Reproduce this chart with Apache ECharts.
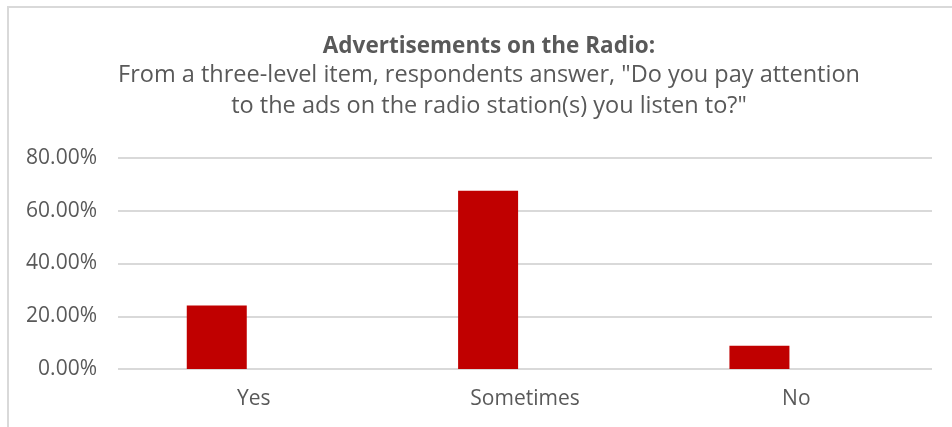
<!DOCTYPE html>
<html>
<head>
<meta charset="utf-8">
<script src="https://cdn.jsdelivr.net/npm/echarts@6/dist/echarts.min.js"></script>
<style>
  html, body { margin: 0; padding: 0; background: #fff; }
  #chart { width: 952px; height: 427px; }
</style>
</head>
<body>
<div id="chart"></div>
<script>
// data
const categories = ['Yes', 'Sometimes', 'No']
const shares = [24.1, 67.6, 8.8]
const yTicks = [0, 20, 40, 60, 80]

const textColor = '#595959'
const gridColor = '#d9d9d9'
const font = 'Open Sans'

const chart = echarts.init(document.getElementById('chart'))
chart.setOption({
  animation: false,
  textStyle: { fontFamily: font },
  title: {
    left: 484,
    top: 30,
    textAlign: 'center',
    text: 'Advertisements on the Radio:',
    textStyle: { fontFamily: font, fontSize: 22.5, fontWeight: 'bold', color: textColor },
    subtext: 'From a three-level item, respondents answer, "Do you pay attention\nto the ads on the radio station(s) you listen to?"',
    subtextStyle: { fontFamily: font, fontSize: 23.5, color: textColor, lineHeight: 31 },
    itemGap: 2
  },
  graphic: [{
    type: 'rect',
    shape: { x: 8, y: 7, width: 980, height: 460 },
    style: { fill: 'none', stroke: gridColor, lineWidth: 2 },
    silent: true
  }],
  grid: { left: 118, right: 20, top: 158, bottom: 58 },
  xAxis: {
    type: 'category',
    data: categories,
    axisLine: { show: false },
    axisTick: { show: false },
    axisLabel: { color: textColor, fontSize: 21, margin: 20 }
  },
  yAxis: {
    type: 'value',
    min: yTicks[0],
    max: yTicks[yTicks.length - 1],
    interval: 20,
    axisLine: { show: false },
    axisTick: { show: false },
    axisLabel: {
      color: textColor,
      fontSize: 21,
      margin: 21,
      formatter: v => v.toFixed(2) + '%'
    },
    splitLine: { lineStyle: { color: gridColor, width: 2 } }
  },
  series: [
    {
      name: 'Share',
      type: 'bar',
      data: shares,
      barWidth: 60,
      barGap: '23%',
      itemStyle: { color: '#c00000' }
    },
    {
      // empty second series: Excel leaves a slot beside each bar
      name: 'blank',
      type: 'bar',
      data: categories.map(() => null),
      barWidth: 60
    }
  ]
})
</script>
</body>
</html>
